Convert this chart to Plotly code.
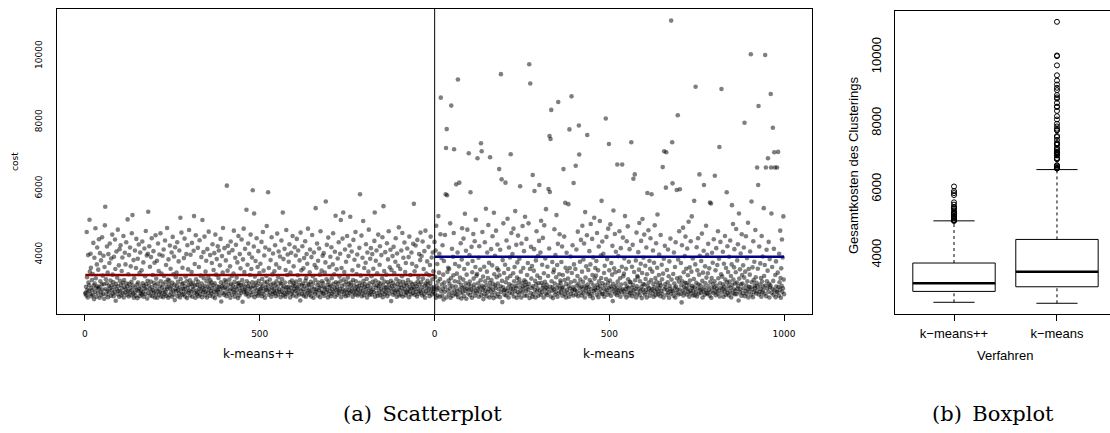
import plotly.graph_objects as go

# ---------------- data ----------------
# cost of each run, in run order (k-means++ runs 1..1000, k-means runs 1..1000)
kpp_cost = [
    2810, 2850, 3020, 2760, 4680, 3310, 2930, 2700, 3980, 3150, 2890, 3070, 5050, 3480, 2810, 4020, 3600, 2980, 2740, 3230,
    2920, 3410, 2780, 4350, 3060, 2650, 3900, 3120, 2870, 4790, 3280, 2990, 2720, 3700, 4210, 3040, 2830, 3540, 2960, 4460,
    3010, 2690, 4040, 3190, 2880, 3820, 2770, 3090, 4520, 2940, 3360, 2810, 3960, 3100, 2660, 3620, 4880, 5440, 2950, 3250,
    2790, 3130, 4240, 2900, 3450, 2710, 4010, 3050, 2860, 3740, 4330, 2980, 3210, 2750, 3880, 3070, 2930, 4600, 3390, 2820,
    3160, 2740, 3930, 3020, 2870, 4450, 3560, 2600, 3110, 4090, 2950, 3300, 2800, 4750, 3040, 2900, 3670, 2720, 4160, 3200,
    2880, 4280, 3080, 2760, 3500, 2970, 3910, 2830, 3140, 4560, 2700, 3230, 3010, 4050, 2850, 3700, 2940, 4370, 3120, 2780,
    3040, 5060, 2900, 3400, 2730, 3980, 3110, 2860, 4210, 2990, 3640, 2770, 3170, 4640, 2920, 5190, 3060, 2810, 3830, 2690,
    3280, 2850, 4120, 3000, 2750, 3590, 4470, 2930, 3090, 2680, 3870, 3150, 2890, 4300, 2960, 3440, 2740, 4060, 3030, 2820,
    2910, 3520, 2790, 4390, 3130, 2860, 3760, 2720, 3050, 4180, 2980, 3340, 2800, 4710, 3100, 2940, 3970, 2670, 3200, 4020,
    5290, 2830, 3070, 4250, 2960, 3630, 2760, 3180, 3920, 2880, 4490, 3010, 2740, 3380, 2920, 4100, 3140, 2850, 3750, 2700,
    3060, 4580, 2810, 3270, 2950, 3810, 2690, 3120, 4330, 2900, 3500, 2780, 4000, 3030, 2870, 4640, 3190, 2730, 3420, 2990,
    2840, 3960, 3090, 2710, 4150, 3350, 2930, 2800, 4420, 3160, 2870, 3680, 2750, 3020, 4800, 2960, 3240, 2690, 3850, 3100,
    3210, 2770, 4270, 2980, 3570, 2860, 3030, 4060, 2720, 3140, 4530, 2910, 3400, 2790, 3940, 3080, 2620, 4220, 2950, 3310,
    2890, 3450, 3050, 4370, 2740, 3170, 2930, 3790, 2820, 4120, 3000, 2700, 5110, 3260, 2880, 4660, 3110, 2780, 3600, 2970,
    3130, 2800, 3890, 2950, 4480, 3040, 2730, 3330, 2870, 4010, 3190, 2680, 4280, 2990, 3550, 2840, 3080, 4740, 2910, 3220,
    2760, 3990, 3110, 2880, 3470, 4350, 2720, 3020, 3140, 2950, 4110, 5160, 2830, 3710, 3060, 2690, 4580, 3250, 2910, 2800,
    3080, 2850, 4200, 3170, 2740, 3620, 2960, 4430, 3030, 2790, 3360, 2900, 3920, 3120, 2710, 5040, 3000, 2860, 4070, 3280,
    2930, 4540, 3050, 2770, 3480, 2880, 3810, 3190, 2700, 4160, 3010, 2840, 3300, 4690, 2960, 3100, 2750, 3980, 3220, 2890,
    3150, 2820, 3740, 2990, 4310, 2730, 3070, 3530, 2870, 4040, 3130, 2680, 4600, 2940, 3390, 2800, 3860, 3040, 2920, 4250,
    2870, 3290, 4120, 3020, 2760, 3670, 2950, 4470, 3160, 2580, 3040, 3950, 2840, 3450, 4800, 2980, 3100, 2780, 4190, 3230,
    3000, 2850, 3820, 3180, 2740, 6080, 2960, 3510, 4260, 3080, 2810, 4050, 3240, 2900, 3640, 2690, 4390, 3110, 2970, 3350,
    2790, 4130, 3060, 2930, 3420, 4720, 2860, 3170, 2720, 3900, 3010, 4290, 2830, 3300, 2950, 3760, 3120, 2680, 4560, 3050,
    3140, 2760, 4010, 2910, 3580, 3070, 2840, 4450, 2980, 3230, 2570, 3850, 3100, 4780, 2870, 3470, 2940, 4170, 3020, 2790,
    2900, 5350, 3190, 2820, 3690, 3040, 4330, 2730, 3120, 4020, 2960, 3380, 2850, 4600, 3000, 3560, 2770, 3910, 3160, 5940,
    3050, 2880, 4240, 5240, 2710, 3330, 2990, 3800, 3140, 2800, 4490, 3070, 2920, 3620, 2750, 4100, 3200, 2860, 3440, 2950,
    2820, 3720, 3100, 2970, 4380, 2740, 3260, 3030, 4680, 2890, 3510, 2800, 3970, 3150, 2690, 4210, 3010, 2930, 3350, 4860,
    3170, 2910, 3060, 5880, 2780, 3590, 4140, 2950, 3240, 2850, 3830, 3090, 2720, 4520, 2990, 3400, 2810, 4030, 3120, 2880,
    2960, 3490, 2830, 4280, 3080, 2740, 3700, 3190, 2900, 4630, 3030, 2790, 3310, 4090, 2940, 3600, 2860, 3940, 3140, 2710,
    3110, 4420, 2870, 3250, 2980, 5270, 2770, 3860, 3040, 2830, 4170, 3150, 2720, 3530, 2930, 4740, 3010, 2800, 3380, 4000,
    2850, 3020, 3780, 2920, 4310, 3160, 2700, 3450, 2990, 4050, 2810, 3210, 2880, 4560, 3070, 2760, 3640, 3130, 2950, 4220,
    3040, 2890, 3970, 3180, 2730, 4470, 3000, 2840, 3370, 4120, 2960, 3090, 2790, 3820, 3230, 2610, 4660, 2910, 3520, 3060,
    2800, 4250, 3120, 2950, 3580, 2750, 3890, 3050, 2860, 4400, 3200, 2720, 3290, 4010, 2980, 3720, 2830, 4780, 3100, 2910,
    3080, 2780, 3460, 4150, 2900, 3170, 2730, 3920, 3010, 4590, 2850, 3340, 3120, 2690, 4060, 2960, 3680, 2810, 3230, 5400,
    2940, 3600, 2870, 4330, 3070, 2760, 3810, 3150, 2920, 4180, 2990, 3390, 2710, 4700, 3040, 2840, 3510, 3190, 2880, 3960,
    3130, 2820, 4040, 3010, 2750, 3450, 2970, 3760, 5600, 2860, 3250, 4290, 2930, 3080, 2700, 4510, 3180, 2800, 3620, 3020,
    2890, 3930, 3060, 2740, 4220, 3280, 2950, 2810, 3700, 4640, 3110, 2860, 3400, 2990, 4080, 2720, 5170, 3160, 2920, 3550,
    3020, 2780, 3880, 3120, 2900, 4370, 2830, 3330, 2960, 4020, 3190, 5040, 2710, 3590, 3050, 2870, 4480, 2940, 5270, 3240,
    2800, 3470, 3090, 4150, 2910, 2740, 3780, 3170, 2860, 4560, 3000, 3300, 2760, 3950, 3110, 2920, 4270, 2830, 5140, 3060,
    3150, 2880, 4090, 2970, 3520, 2720, 3230, 4440, 2840, 3070, 3840, 2950, 2790, 4680, 3190, 2900, 3410, 3030, 4000, 2760,
    2930, 3660, 3040, 2810, 4200, 3140, 5820, 2870, 3360, 2980, 4570, 2740, 3080, 3900, 2890, 5010, 3200, 2770, 3590, 3010,
    3100, 2850, 3750, 4310, 2960, 3260, 2700, 4060, 3050, 2820, 3480, 4750, 2910, 3130, 2780, 3870, 3000, 4190, 2880, 3340,
    2790, 4010, 3170, 2940, 3570, 2860, 3080, 4410, 5270, 2720, 3210, 3810, 2990, 4120, 2830, 3430, 3060, 2750, 4600, 3150,
    3030, 2900, 3690, 4250, 2770, 3120, 2960, 3980, 2840, 3280, 4520, 2710, 3070, 5460, 2930, 3500, 3180, 2800, 4070, 2990,
    2860, 3390, 3010, 4340, 2740, 3160, 3850, 2920, 4700, 3090, 2810, 3610, 2980, 4140, 3200, 2590, 3530, 3040, 2880, 3950,
    3140, 2780, 4230, 2950, 3440, 3060, 2830, 3780, 4490, 2910, 3250, 2720, 4030, 3110, 2870, 3660, 3000, 4820, 2760, 3190,
    2920, 3560, 3080, 2800, 4120, 2990, 3340, 4650, 2730, 3170, 3900, 2880, 3050, 4360, 2950, 3470, 2770, 3740, 3130, 2840,
    3070, 4180, 2860, 3230, 2950, 3920, 2710, 4540, 3020, 2890, 3380, 3150, 2790, 4060, 2970, 3720, 3100, 2830, 4320, 3000,
    5530, 2940, 3490, 2780, 3110, 4270, 2870, 3640, 3040, 2730, 4440, 3180, 2960, 3300, 2810, 4010, 3090, 2900, 3830, 4660,
    2850, 3160, 3950, 3010, 2760, 4390, 3270, 2920, 3560, 2800, 4100, 3060, 2690, 4720, 3120, 2880, 3420, 2990, 3790, 3200,
    3090, 2830, 4230, 2960, 3370, 2740, 3680, 3140, 4540, 2900, 3020, 3910, 2790, 3250, 4060, 2870, 3490, 3000, 2950, 4380,
]

km_cost = [
    2810, 3320, 4120, 2690, 4870, 3050, 2930, 3710, 2760, 3180, 5160, 2980, 3450, 4020, 2720, 3260, 4610, 8740, 2880, 3890,
    3090, 2750, 4280, 2960, 3390, 2640, 3800, 3150, 2870, 4590, 3020, 5820, 7220, 2700, 7790, 5790, 3470, 2910, 3600, 3210,
    2790, 3560, 3110, 2980, 4940, 2690, 3280, 8500, 2850, 4170, 3040, 2750, 3930, 3370, 4650, 7180, 2920, 3190, 3710, 2810,
    3030, 6120, 2780, 3420, 2900, 4060, 9290, 2710, 3170, 3640, 6170, 2950, 3300, 2830, 4340, 3080, 2670, 3850, 4790, 2990,
    2870, 3240, 4480, 2740, 3560, 3010, 5230, 2900, 3130, 4110, 2660, 3390, 2960, 4750, 3720, 2820, 3090, 7060, 2940, 3980,
    3180, 2770, 5880, 3050, 2930, 4230, 2690, 3460, 3800, 2860, 4620, 3270, 2990, 3090, 4400, 2750, 3620, 5050, 2900, 3360,
    2840, 3410, 6910, 2970, 3130, 3900, 2720, 4250, 3010, 2880, 3540, 3220, 7360, 2770, 7120, 3050, 4680, 2930, 3330, 2650,
    3000, 3630, 2800, 4370, 3190, 2910, 5380, 3070, 2740, 3480, 4060, 2860, 3290, 4890, 2960, 3750, 2700, 3140, 6940, 3020,
    2890, 4160, 3230, 2770, 3670, 4550, 2940, 3110, 2680, 5260, 3400, 2850, 3960, 3060, 2990, 4720, 2730, 3310, 3580, 4300,
    3120, 2800, 3520, 2950, 6580, 3370, 2710, 4140, 3040, 9450, 2870, 6270, 3200, 2560, 3830, 3010, 4940, 2910, 3440, 2780,
    2930, 3690, 6170, 3160, 2760, 4420, 2890, 3280, 5080, 2990, 3560, 2700, 4210, 3100, 2840, 3910, 3350, 7030, 2960, 4650,
    3060, 2820, 4010, 2950, 3430, 4780, 2730, 3190, 3620, 2880, 5310, 3050, 2990, 4290, 2690, 3300, 3760, 2860, 4570, 3140,
    2780, 3250, 3870, 3010, 6060, 2900, 3480, 2700, 4330, 3140, 2850, 4860, 3030, 3590, 2960, 4100, 3220, 2750, 5140, 3080,
    3170, 2890, 4470, 2760, 3380, 3020, 3740, 2940, 4940, 3110, 9750, 2680, 3560, 9170, 2830, 4230, 3270, 2990, 3650, 2720,
    6400, 3040, 2800, 3510, 4160, 5920, 2930, 3200, 2700, 3820, 3090, 4700, 2870, 3360, 2980, 3950, 2750, 3130, 4410, 6100,
    2910, 3290, 4060, 2780, 5020, 3140, 2860, 3690, 2990, 4500, 3060, 2700, 3430, 4880, 2940, 3170, 3880, 2820, 5370, 3000,
    3080, 2770, 3630, 2950, 3350, 5980, 2850, 4180, 7580, 5890, 3020, 7490, 2730, 8370, 3190, 2900, 3770, 3010, 2680, 3460,
    2940, 3540, 4760, 3120, 2790, 3980, 2870, 3310, 5190, 2990, 3680, 2720, 4320, 8610, 3070, 2830, 3400, 4610, 2960, 3210,
    3140, 2860, 3770, 2990, 4240, 2750, 3380, 3020, 6580, 2910, 4540, 3230, 2800, 5560, 3600, 2700, 3110, 4050, 2930, 3490,
    2840, 3270, 5520, 3050, 2720, 7780, 3590, 2970, 3940, 3160, 2810, 8780, 3440, 2900, 4280, 3010, 2760, 6160, 3700, 2950,
    3200, 2920, 3560, 6680, 2790, 4150, 3060, 2880, 3350, 4690, 2740, 3120, 7900, 7020, 2990, 3780, 3240, 2850, 4440, 3030,
    2760, 3480, 4870, 2950, 3170, 3850, 2830, 4330, 3040, 2700, 5280, 3300, 2910, 3640, 2990, 4580, 7610, 3090, 2810, 3530,
    3010, 2860, 4100, 3230, 2740, 3700, 4920, 2950, 3150, 2800, 4470, 3380, 2680, 3910, 3060, 2890, 5110, 3270, 2970, 3590,
    2920, 3360, 3800, 2780, 4650, 3080, 2990, 3520, 2710, 4240, 3190, 2850, 5010, 3050, 2940, 3970, 3290, 5620, 2800, 4390,
    3130, 2810, 4020, 2970, 3440, 2720, 3660, 3070, 2880, 8110, 3260, 4530, 2930, 3860, 2780, 3140, 4780, 2990, 7340, 3520,
    2850, 3210, 4910, 3030, 2750, 3740, 2960, 3390, 4260, 2590, 3110, 5330, 2880, 3580, 3000, 4620, 2820, 3460, 4080, 2940,
    3060, 2770, 6720, 3180, 2910, 3950, 2840, 3500, 4700, 2980, 3280, 2720, 4190, 3090, 2860, 3630, 6720, 2950, 4510, 3340,
    2900, 3420, 3880, 2790, 5160, 3120, 2960, 3570, 2700, 4400, 3030, 2870, 4850, 3250, 2990, 3780, 2760, 4160, 3170, 2830,
    3150, 2880, 7390, 3000, 3630, 2740, 4290, 3080, 6290, 2920, 3470, 2810, 6420, 3220, 2960, 3820, 2700, 4660, 3040, 3350,
    2820, 3310, 4070, 2950, 3540, 4950, 2770, 3190, 2890, 3720, 4410, 3020, 2680, 3440, 5070, 2940, 3100, 3900, 2850, 4600,
    3090, 2790, 3660, 3260, 2930, 4210, 2700, 3400, 5860, 3040, 2860, 4730, 3150, 2980, 3810, 2750, 3570, 4490, 2910, 3230,
    5820, 2960, 3480, 2830, 4120, 3110, 2720, 3750, 3000, 4880, 2890, 3290, 2770, 4340, 3170, 2940, 3600, 5210, 3060, 2800,
    2870, 3380, 4000, 2990, 3140, 2740, 4590, 3060, 2900, 3690, 3250, 2810, 6640, 3420, 2700, 3870, 7120, 2950, 4260, 3100,
    3010, 6020, 7090, 2780, 3530, 2920, 3160, 4150, 2850, 3340, 2690, 3790, 3050, 2960, 4480, 2810, 11070, 3240, 2910, 7390,
    6150, 2880, 3410, 2750, 4060, 3120, 2990, 3620, 2700, 4370, 3030, 2840, 5950, 3280, 2930, 8210, 3850, 2790, 3180, 4700,
    2940, 5970, 3300, 2810, 3740, 3070, 2550, 4280, 3190, 2900, 4810, 2760, 3460, 3020, 2850, 3950, 3140, 4540, 2980, 3570,
    3130, 2790, 4180, 2960, 3370, 2870, 4990, 3080, 2720, 3610, 3210, 2900, 4400, 2830, 3480, 5150, 2990, 3050, 3880, 2760,
    2900, 3260, 5620, 3010, 2770, 3700, 9070, 2860, 3140, 4220, 2730, 3520, 2970, 4490, 3090, 2820, 3390, 6420, 3960, 2940,
    3070, 2840, 3800, 2950, 4630, 3200, 2700, 3450, 2880, 4110, 6100, 3010, 2780, 3640, 3130, 2920, 4870, 3300, 2830, 3990,
    2810, 3430, 4320, 3040, 2930, 3580, 2750, 5570, 3170, 2870, 5540, 2690, 3290, 4050, 2980, 3750, 3100, 2840, 4460, 3000,
    3190, 6380, 2880, 3520, 2770, 4190, 3060, 2960, 3680, 2820, 4700, 3280, 2910, 3870, 7250, 2730, 3130, 4380, 2990, 3400,
    9000, 2850, 3330, 2960, 4080, 3100, 2720, 3720, 3020, 2890, 4560, 3240, 2780, 3590, 2940, 5880, 3160, 4250, 2830, 3470,
    3050, 2760, 3930, 3180, 2880, 4420, 2990, 3350, 2700, 3700, 5490, 3080, 2830, 4920, 3240, 2950, 3610, 4160, 2800, 3120,
    2910, 3460, 4770, 2800, 3150, 3820, 2970, 4310, 3040, 2610, 5240, 3270, 2860, 3550, 2950, 4030, 3100, 2750, 4610, 3380,
    3120, 2830, 3670, 2980, 4210, 3300, 7980, 2740, 3480, 2900, 4550, 3060, 2810, 3890, 3190, 2950, 4960, 2700, 3560, 3020,
    2880, 3390, 4090, 3010, 10050, 2780, 5600, 3160, 2940, 3610, 2710, 4400, 3230, 2860, 3780, 3050, 2990, 4740, 3310, 2820,
    3140, 2900, 6630, 3020, 3570, 6100, 8490, 2790, 4240, 3090, 2870, 3730, 2960, 3290, 2720, 4560, 3180, 2850, 3940, 3040,
    2930, 5400, 3350, 2810, 3680, 10030, 3060, 6630, 2740, 4140, 3190, 2980, 3510, 6910, 2870, 4380, 3110, 2700, 3860, 3000,
    3070, 8850, 6630, 5240, 2840, 3620, 2960, 7830, 3200, 2780, 4170, 7090, 2920, 6630, 3380, 2710, 3790, 3030, 2880, 6630,
    2850, 3450, 7100, 3010, 2760, 4020, 3160, 2930, 4720, 3290, 2690, 3580, 3050, 4450, 2870, 3910, 2980, 5150, 3240, 2800,
]

# mean cost lines
mean_kpp = 3380
mean_km = 3930

# boxplot statistics
box_names = ["k\u2212means++", "k\u2212means"]
box_q1 = [2900, 3040]
box_median = [3145, 3495]
box_q3 = [3760, 4475]
box_low = [2570, 2540]
box_high = [5038, 6592]

# axis ticks
scatter_tickvals = [0, 500, 1000, 1500, 2000]
scatter_ticktext = ["0", "500", "0", "500", "1000"]
cost_ticks = [4000, 6000, 8000, 10000]
cost_ticktext = ["4000", "6000", "8000", "10000"]

# ---------------- figure ----------------
W, H = 1110, 433


def fx(p):
    return p / W


def fy(p):
    return 1 - p / H


n_kpp = len(kpp_cost)
x_kpp = list(range(1, n_kpp + 1))
x_km = [n_kpp + i for i in range(1, len(km_cost) + 1)]

fig = go.Figure()

pt = dict(size=4.6, color="rgba(0,0,0,0.5)", line=dict(width=0))
fig.add_trace(go.Scatter(x=x_kpp, y=kpp_cost, mode="markers", marker=pt,
                         xaxis="x", yaxis="y", hoverinfo="skip"))
fig.add_trace(go.Scatter(x=x_km, y=km_cost, mode="markers", marker=pt,
                         xaxis="x", yaxis="y", hoverinfo="skip"))
fig.add_trace(go.Scatter(x=[x_kpp[0], x_kpp[-1]], y=[mean_kpp, mean_kpp], mode="lines",
                         line=dict(color="#8B0000", width=2.6), xaxis="x", yaxis="y"))
fig.add_trace(go.Scatter(x=[x_km[0], x_km[-1]], y=[mean_km, mean_km], mode="lines",
                         line=dict(color="#00008B", width=2.6), xaxis="x", yaxis="y"))

# separator between the two samples
fig.add_shape(type="line", xref="x", yref="y domain", x0=n_kpp + 0.5, x1=n_kpp + 0.5,
              y0=0, y1=1, line=dict(color="black", width=1))

# ---------------- boxplot (drawn R-style) ----------------
hw = 0.4   # half box width
cw = 0.2   # half whisker-cap width
for i in range(len(box_names)):
    c = i + 1
    blk = dict(color="black", width=1)
    fig.add_trace(go.Scatter(x=[c, c], y=[box_q3[i], box_high[i]], mode="lines",
                             line=dict(color="black", width=1, dash="3px,3px"),
                             xaxis="x2", yaxis="y2", hoverinfo="skip"))
    fig.add_trace(go.Scatter(x=[c, c], y=[box_low[i], box_q1[i]], mode="lines",
                             line=dict(color="black", width=1, dash="3px,3px"),
                             xaxis="x2", yaxis="y2", hoverinfo="skip"))
    for v in (box_low[i], box_high[i]):
        fig.add_trace(go.Scatter(x=[c - cw, c + cw], y=[v, v], mode="lines", line=blk,
                                 xaxis="x2", yaxis="y2", hoverinfo="skip"))
    fig.add_trace(go.Scatter(x=[c - hw, c + hw, c + hw, c - hw, c - hw],
                             y=[box_q1[i], box_q1[i], box_q3[i], box_q3[i], box_q1[i]],
                             mode="lines", line=blk, fill="toself", fillcolor="white",
                             xaxis="x2", yaxis="y2", hoverinfo="skip"))
    fig.add_trace(go.Scatter(x=[c - hw, c + hw], y=[box_median[i], box_median[i]], mode="lines",
                             line=dict(color="black", width=2.6),
                             xaxis="x2", yaxis="y2", hoverinfo="skip"))

# outliers: points beyond the whisker ends
for i, data in enumerate((kpp_cost, km_cost)):
    outl = [v for v in data if v > box_high[i] or v < box_low[i]]
    fig.add_trace(go.Scatter(x=[i + 1] * len(outl), y=outl, mode="markers",
                             marker=dict(symbol="circle-open", size=5, color="black",
                                         line=dict(width=1)),
                             xaxis="x2", yaxis="y2", hoverinfo="skip"))

sfont = dict(family="DejaVu Sans", size=9, color="black")
bfont = dict(family="Liberation Sans, Arial, sans-serif", size=13, color="black")

fig.update_layout(
    width=W, height=H,
    margin=dict(l=0, r=0, t=0, b=0),
    paper_bgcolor="white", plot_bgcolor="white",
    showlegend=False,
    xaxis=dict(domain=[fx(57), fx(812)], range=[-80, 2080],
               tickvals=scatter_tickvals, ticktext=scatter_ticktext,
               ticks="outside", ticklen=6, tickcolor="black", tickwidth=1,
               tickfont=sfont, ticklabelstandoff=5,
               showline=True, linecolor="black", linewidth=1, mirror=True,
               showgrid=False, zeroline=False),
    yaxis=dict(domain=[fy(314), fy(9)], range=[2200, 11420],
               tickvals=cost_ticks, ticktext=cost_ticktext, tickangle=-90, ticks="",
               tickfont=sfont, ticklabelstandoff=10,
               showline=True, linecolor="black", linewidth=1, mirror=True,
               showgrid=False, zeroline=False),
    xaxis2=dict(domain=[fx(894.7), 1.0], range=[0.424, 2.515], anchor="y2",
                tickvals=[1, 2], ticktext=box_names,
                ticks="outside", ticklen=6, tickcolor="black", tickwidth=1,
                tickfont=bfont, ticklabelstandoff=1,
                showline=True, linecolor="black", linewidth=1, mirror=True,
                showgrid=False, zeroline=False),
    yaxis2=dict(domain=[fy(314), fy(10.5)], range=[2215, 11413], anchor="x2",
                tickvals=cost_ticks, ticktext=cost_ticktext, tickangle=-90, ticks="",
                tickfont=bfont, ticklabelstandoff=8,
                showline=True, linecolor="black", linewidth=1, mirror=False,
                showgrid=False, zeroline=False),
)

ann = [
    dict(text="cost", x=fx(15), y=fy(162), textangle=-90, font=dict(family="DejaVu Sans", size=9)),
    dict(text="k-means++", x=fx(259), y=fy(354), font=dict(family="DejaVu Sans", size=12)),
    dict(text="k-means", x=fx(609), y=fy(354), font=dict(family="DejaVu Sans", size=12)),
    dict(text="Gesamtkosten des Clusterings", x=fx(853), y=fy(165), textangle=-90, font=bfont),
    dict(text="Verfahren", x=fx(1005), y=fy(355), font=bfont),
    dict(text="(a)\u2002Scatterplot", x=fx(422), y=fy(414),
         font=dict(family="DejaVu Serif", size=21)),
    dict(text="(b)\u2002Boxplot", x=fx(993), y=fy(414),
         font=dict(family="DejaVu Serif", size=21)),
]
for a in ann:
    a.update(xref="paper", yref="paper", showarrow=False, xanchor="center", yanchor="middle")
    a["font"] = dict(a["font"], color="black")
fig.update_layout(annotations=ann)

fig.write_html("out.html", config={"displayModeBar": False},
               post_script="document.body.style.margin='0';")
